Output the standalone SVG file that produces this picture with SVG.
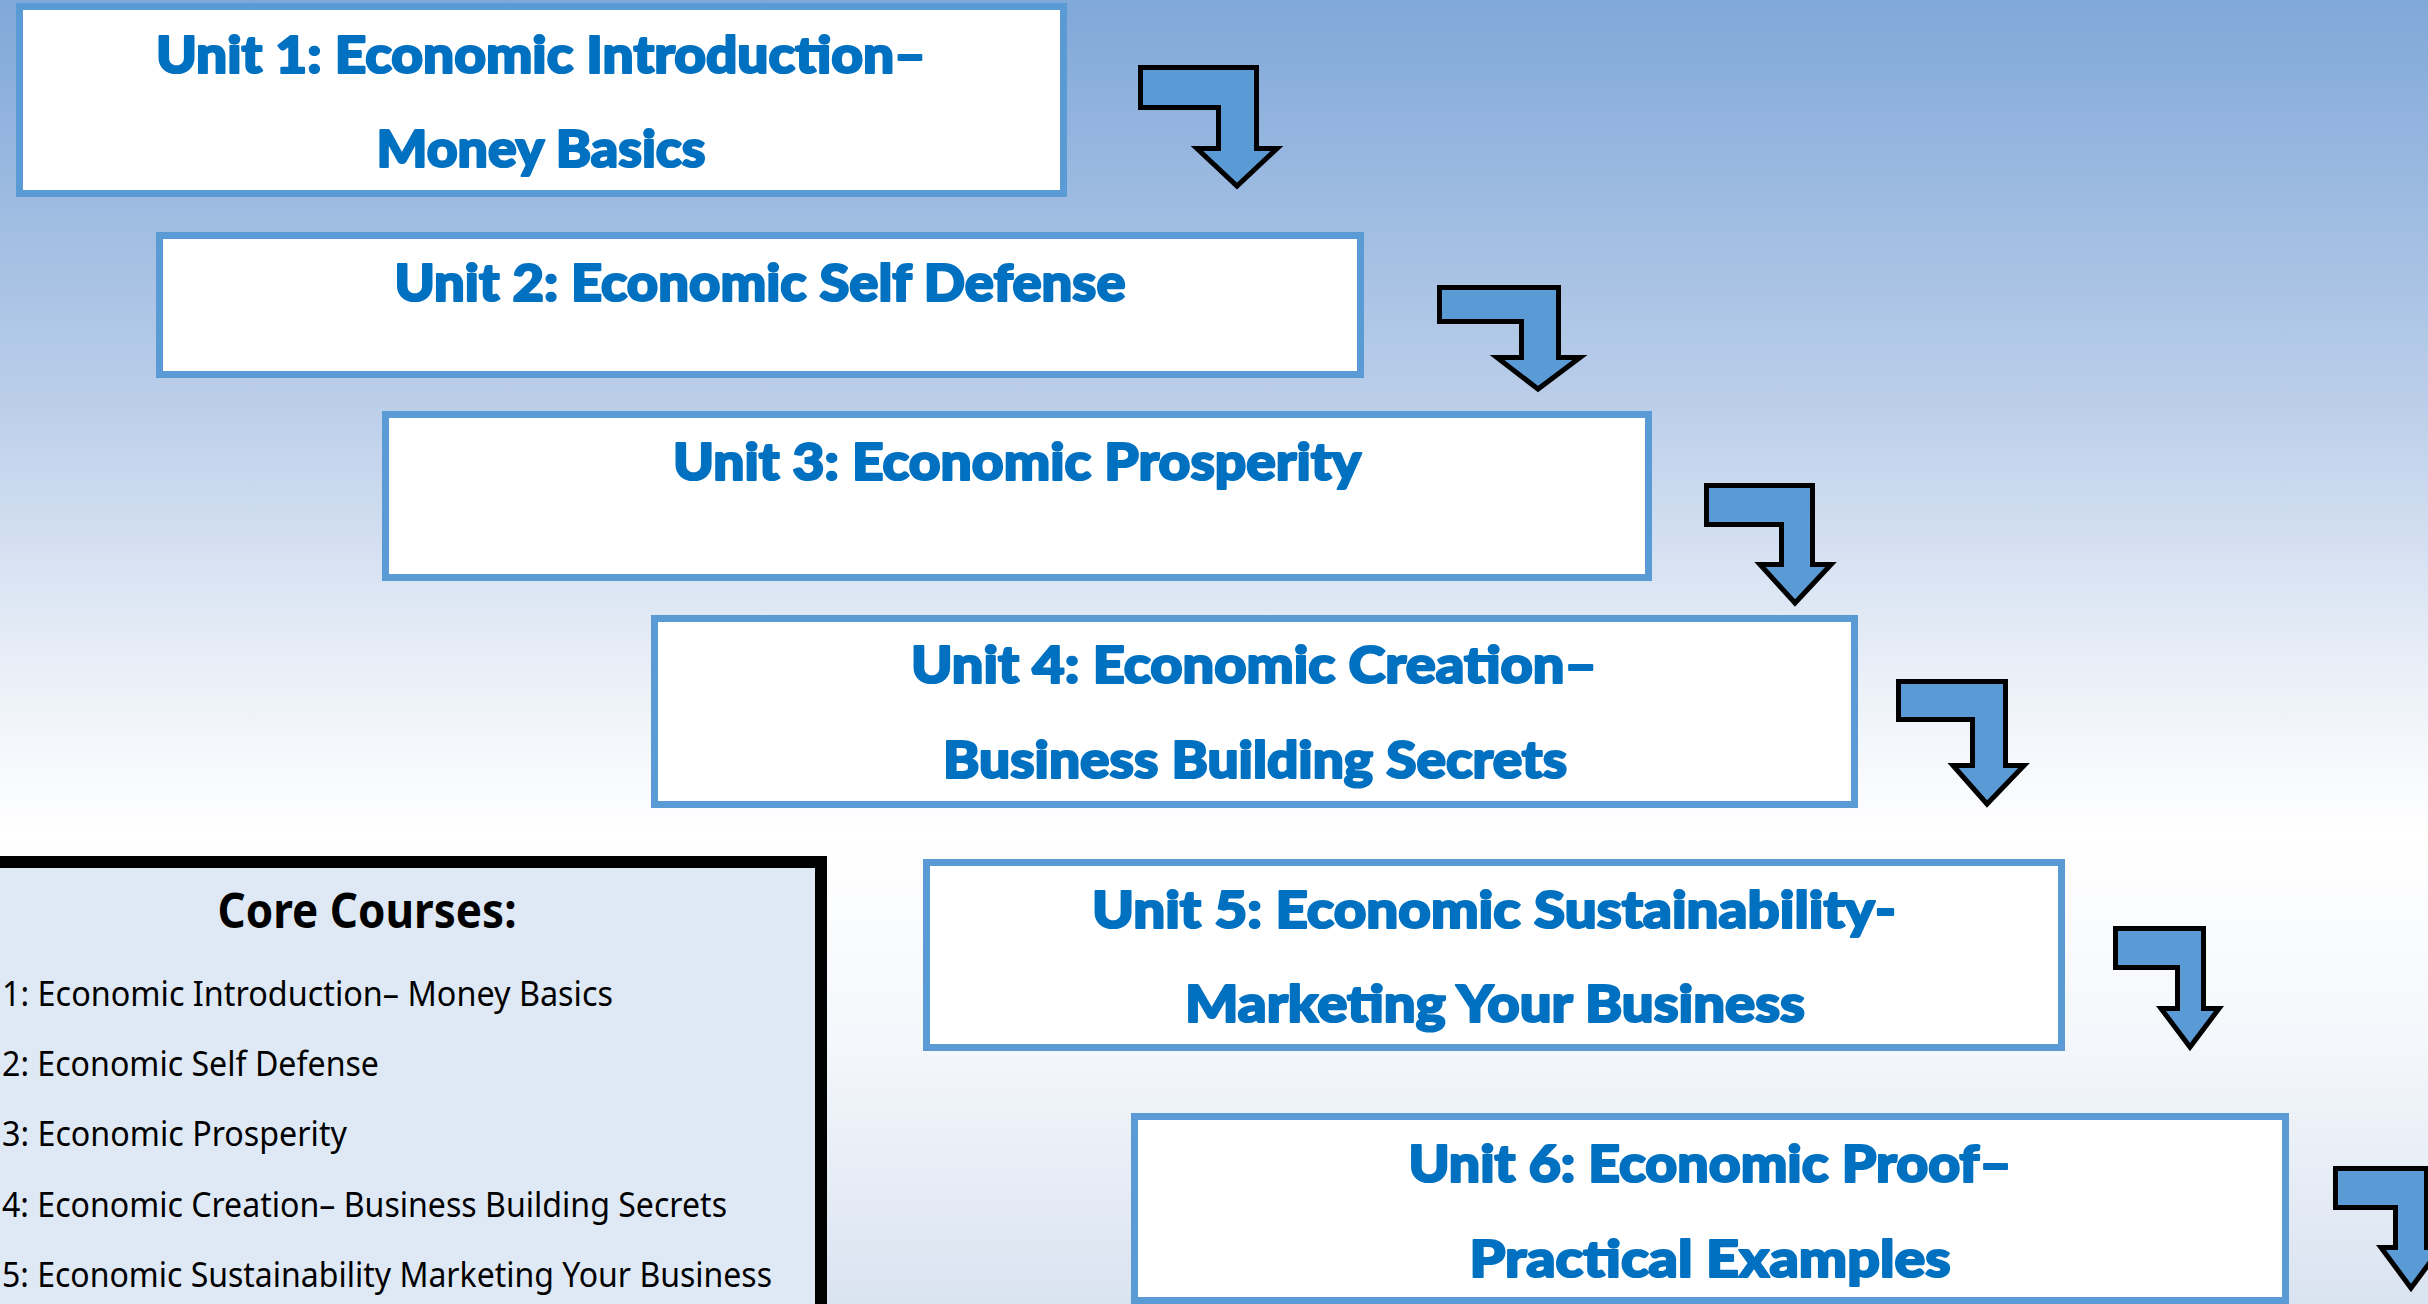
<svg xmlns="http://www.w3.org/2000/svg" width="2428" height="1304" viewBox="0 0 2428 1304">
<defs>
<linearGradient id="bg" x1="0" y1="0" x2="0" y2="1">
<stop offset="0" stop-color="#80A8D9"/>
<stop offset="0.3" stop-color="#B9CDE9"/>
<stop offset="0.52" stop-color="#EBF0F8"/>
<stop offset="0.64" stop-color="#FFFFFF"/>
<stop offset="0.8" stop-color="#F4F7FB"/>
<stop offset="1" stop-color="#DAE3F1"/>
</linearGradient>
</defs>
<style>
.unit{fill:#FFFFFF;stroke:#5B9BD5;stroke-width:7}
.ut{font-family:Lato,"Liberation Sans",sans-serif;font-weight:900;font-size:52px;fill:#0070C0;stroke:#0070C0;stroke-width:2.2;stroke-linejoin:round;text-anchor:middle}
.arrow{fill:#5B9BD5;stroke:#000000;stroke-width:5;stroke-linejoin:miter}
.core{fill:#DEE9F5;stroke:#000000;stroke-width:12}
.ct{font-family:"Noto Sans","Liberation Sans",sans-serif;font-weight:bold;font-size:48px;fill:#000000;text-anchor:middle}
.ci{font-family:"Noto Sans","Liberation Sans",sans-serif;font-size:35px;fill:#000000}
</style>
<rect x="0" y="0" width="2428" height="1304" fill="url(#bg)"/>

<g id="unit1">
<rect class="unit" x="19.5" y="6.5" width="1044" height="187"/>
<text class="ut" x="541" y="73" textLength="770" lengthAdjust="spacingAndGlyphs">Unit 1: Economic Introduction–</text>
<text class="ut" x="541" y="167" textLength="329" lengthAdjust="spacingAndGlyphs">Money Basics</text>
</g>

<g id="unit2">
<rect class="unit" x="159.5" y="235.5" width="1201" height="139"/>
<text class="ut" x="760" y="301" textLength="731" lengthAdjust="spacingAndGlyphs">Unit 2: Economic Self Defense</text>
</g>

<g id="unit3">
<rect class="unit" x="385.5" y="414.5" width="1263" height="163"/>
<text class="ut" x="1017" y="480" textLength="688" lengthAdjust="spacingAndGlyphs">Unit 3: Economic Prosperity</text>
</g>

<g id="unit4">
<rect class="unit" x="654.5" y="618.5" width="1200" height="186"/>
<text class="ut" x="1254" y="683" textLength="686" lengthAdjust="spacingAndGlyphs">Unit 4: Economic Creation–</text>
<text class="ut" x="1255" y="778" textLength="624" lengthAdjust="spacingAndGlyphs">Business Building Secrets</text>
</g>

<g id="unit5">
<rect class="unit" x="926.5" y="862.5" width="1135" height="185"/>
<text class="ut" x="1494" y="928" textLength="804" lengthAdjust="spacingAndGlyphs">Unit 5: Economic Sustainability-</text>
<text class="ut" x="1495" y="1022" textLength="620" lengthAdjust="spacingAndGlyphs">Marketing Your Business</text>
</g>

<g id="unit6">
<rect class="unit" x="1134.5" y="1116.5" width="1151" height="184"/>
<text class="ut" x="1710" y="1182" textLength="603" lengthAdjust="spacingAndGlyphs">Unit 6: Economic Proof–</text>
<text class="ut" x="1710" y="1277" textLength="481" lengthAdjust="spacingAndGlyphs">Practical Examples</text>
</g>

<g id="core-courses">
<rect class="core" x="-20" y="862" width="841" height="500"/>
<text class="ct" x="367" y="928" textLength="299" lengthAdjust="spacingAndGlyphs">Core Courses:</text>
<text class="ci" x="2" y="1006" textLength="611" lengthAdjust="spacingAndGlyphs">1: Economic Introduction– Money Basics</text>
<text class="ci" x="2" y="1076" textLength="377" lengthAdjust="spacingAndGlyphs">2: Economic Self Defense</text>
<text class="ci" x="2" y="1146" textLength="345" lengthAdjust="spacingAndGlyphs">3: Economic Prosperity</text>
<text class="ci" x="2" y="1217" textLength="725" lengthAdjust="spacingAndGlyphs">4: Economic Creation– Business Building Secrets</text>
<text class="ci" x="2" y="1287" textLength="770" lengthAdjust="spacingAndGlyphs">5: Economic Sustainability Marketing Your Business</text>
</g>

<g id="connectors">
<path class="arrow" d="M1140.5,67.5 H1256.5 V148.5 H1277 L1237,186 L1197,148.5 H1218.5 V107.5 H1140.5 Z"/>
<path class="arrow" d="M1439.5,287.5 H1558.5 V357.5 H1580 L1538,389 L1497,357.5 H1521.5 V321.5 H1439.5 Z"/>
<path class="arrow" d="M1706.5,485.5 H1812.5 V564.5 H1831 L1795,603 L1760,564.5 H1781.5 V524.5 H1706.5 Z"/>
<path class="arrow" d="M1898.5,681.5 H2005.5 V765.5 H2024 L1987,804 L1953,765.5 H1972.5 V719.5 H1898.5 Z"/>
<path class="arrow" d="M2115.5,928.5 H2203.5 V1008.5 H2219 L2190,1047 L2161,1008.5 H2177.5 V967.5 H2115.5 Z"/>
<path class="arrow" d="M2335.5,1168.5 H2426.5 V1247.5 H2441 L2411,1288 L2381,1247.5 H2395.5 V1207.5 H2335.5 Z"/>
</g>
</svg>
